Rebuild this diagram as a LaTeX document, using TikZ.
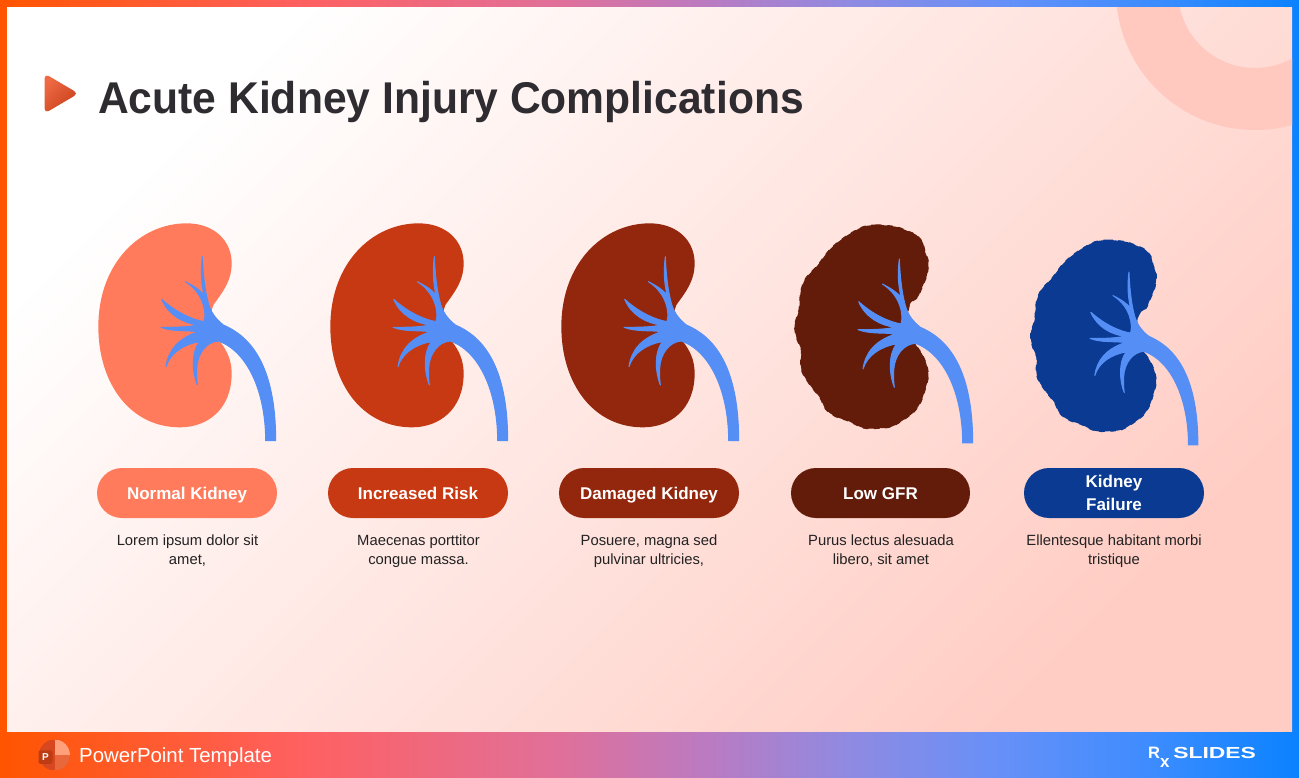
\documentclass[tikz,border=0pt]{standalone}
\usepackage{fontspec}
\setmainfont{Liberation Sans}
\definecolor{ureter}{HTML}{558FF6}
\definecolor{kA}{HTML}{FF7B5C}
\definecolor{kB}{HTML}{C63912}
\definecolor{kC}{HTML}{93270D}
\definecolor{kD}{HTML}{631B0A}
\definecolor{kE}{HTML}{0A3A92}
\definecolor{ringc}{HTML}{FFC9BF}
\definecolor{titlec}{HTML}{2E2C30}
\definecolor{bodyc}{HTML}{222222}
\definecolor{panelend}{HTML}{FFCDC4}
\definecolor{playA}{HTML}{EE6A45}
\definecolor{playB}{HTML}{C8401A}
\definecolor{icoA}{HTML}{D84820}
\definecolor{icoB}{HTML}{FFA07A}
\definecolor{icoC}{HTML}{E8683C}
\definecolor{icoD}{HTML}{BE3C14}
\definecolor{gA}{HTML}{FF5500}
\definecolor{gB}{HTML}{FF6060}
\definecolor{gC}{HTML}{E0709A}
\definecolor{gD}{HTML}{BC7AC0}
\definecolor{gE}{HTML}{8F8AE2}
\definecolor{gF}{HTML}{6690F8}
\definecolor{gG}{HTML}{3D8CFF}
\definecolor{gH}{HTML}{0A82FF}
\pgfdeclarehorizontalshading{framegrad}{100bp}{
 color(0bp)=(gA);
 color(25bp)=(gA);
 color(36.5bp)=(gB);
 color(46.5bp)=(gC);
 color(52bp)=(gD);
 color(57.7bp)=(gE);
 color(63.5bp)=(gF);
 color(69.3bp)=(gG);
 color(75bp)=(gH);
 color(100bp)=(gH)}
\newcommand{\normalpath}{
 (320,40) .. controls (400,40) and (455,90) .. (455,160)
 .. controls (455,215) and (425,250) .. (400,285)
 .. controls (385,320) and (395,370) .. (420,395)
 .. controls (440,420) and (455,450) .. (455,490)
 .. controls (455,600) and (380,652) .. (300,652)
 .. controls (150,652) and (55,520) .. (55,350)
 .. controls (55,160) and (180,40) .. (320,40) -- cycle}
\newcommand{\bumpypath}{
 plot[smooth cycle,tension=0.5] coordinates {(250,50)(290,45)(325,47)(355,52)(385,64)(408,74)(428,97)(435,125)(445,155)(441,195)(423,240)(413,262)(392,278)(385,300)(385,350)(405,400)(426,432)(440,465)(445,500)(435,540)(423,575)(403,605)(373,628)(335,650)(295,655)(250,654)(205,633)(167,620)(137,598)(120,563)(92,528)(67,488)(62,455)(64,420)(50,385)(44,345)(57,300)(62,245)(77,205)(112,167)(142,127)(167,102)(205,74)}}
\newcommand{\ureterpath}{
 (367,140) .. controls (369,190) and (374,240) .. (385,280)
 .. controls (392,305) and (405,325) .. (430,345)
 .. controls (500,375) and (587,450) .. (587,692)
 -- (557,692)
 .. controls (557,550) and (505,425) .. (415,393)
 .. controls (380,395) and (352,430) .. (350,475)
 .. controls (349,495) and (350,510) .. (352,525)
 .. controls (338,490) and (332,430) .. (358,395)
 .. controls (310,403) and (270,430) .. (258,470)
 .. controls (265,420) and (295,385) .. (355,365)
 .. controls (320,360) and (280,366) .. (243,352)
 .. controls (280,352) and (320,352) .. (355,345)
 .. controls (310,340) and (265,315) .. (245,268)
 .. controls (275,295) and (320,325) .. (372,335)
 .. controls (380,310) and (372,250) .. (316,215)
 .. controls (345,230) and (360,240) .. (372,255)
 .. controls (363,215) and (362,180) .. (367,140) -- cycle}
\newcommand{\pillstrut}{\rule[-5pt]{0pt}{22pt}}
\tikzset{
 pill/.style={rounded corners=25pt,minimum width=180pt,minimum height=50pt,inner sep=0pt,text=white,align=center,font=\fontsize{17}{23}\selectfont\bfseries},
 desc/.style={align=center,text=bodyc,inner sep=0pt,font=\fontsize{14.8}{19}\selectfont},
 logotext/.style={anchor=base west,inner sep=0pt,text=white},
 tube/.style={fill=ureter,draw=ureter,line width=1pt,line join=round},
 ruffle/.style={line width=1.1pt,line cap=round,dash pattern=on 5pt off 6pt}
}
\newcommand{\smoothkidney}[3]{%
 \begin{scope}[shift={(#1,#2)},scale=1/3]
  \fill[#3] \normalpath;
  \path[tube] \ureterpath;
 \end{scope}}
\newcommand{\rufflekidney}[4]{%
 \begin{scope}[shift={(#1,#2)},scale=#4]
  \fill[#3] \bumpypath;
  \draw[#3,ruffle] \bumpypath;
  \begin{scope}[shift={(-9,7)}]
   \path[tube] \ureterpath;
  \end{scope}
 \end{scope}}
\begin{document}
\begin{tikzpicture}[x=1pt,y=-1pt]
\useasboundingbox (0,0) rectangle (1299,778);
\shade[shading=framegrad] (0,0) rectangle (1299,778);
\shade[left color=white,right color=panelend,shading angle=45] (7,8) rectangle (1292,731);
\begin{scope}
 \clip (7,8) rectangle (1292,731);
 \fill[ringc,even odd rule] (1255,-9) circle[radius=139] (1255,-9) circle[radius=77];
\end{scope}
% title
\shade[left color=playA,right color=playB,shading angle=45,rounded corners=5pt] (44.5,93) -- (44.5,73.5) -- (78.5,93.5) -- (44.5,113.5) -- cycle;
\node[anchor=base west,inner sep=0pt,text=titlec,xscale=0.9576,font=\fontsize{44.5}{50}\selectfont\bfseries] (title) at (98,114) {Acute Kidney Injury Complications};
% kidneys
\smoothkidney{80}{210}{kA}
\smoothkidney{312}{210}{kB}
\smoothkidney{543}{210}{kC}
\rufflekidney{780}{210}{kD}{1/3}
\rufflekidney{1016.8}{226.0}{kE}{0.3133}
% pills
\node[pill,fill=kA] (p1) at (187,493) {\pillstrut Normal Kidney};
\node[pill,fill=kB] (p2) at (418,493) {\pillstrut Increased Risk};
\node[pill,fill=kC] (p3) at (649,493) {\pillstrut Damaged Kidney};
\node[pill,fill=kD,minimum width=179pt] (p4) at (880.5,493) {\pillstrut Low GFR};
\node[pill,fill=kE] (p5) at (1114,493) {\pillstrut Kidney\\\pillstrut Failure};
% descriptions
\node[desc] (d1) at (187.5,551.5) {\strut Lorem ipsum dolor sit\\\strut amet,};
\node[desc] (d2) at (418.5,551.5) {\strut Maecenas porttitor\\\strut congue massa.};
\node[desc] (d3) at (649,551.5) {\strut Posuere, magna sed\\\strut pulvinar ultricies,};
\node[desc] (d4) at (881,551.5) {\strut Purus lectus alesuada\\\strut libero, sit amet};
\node[desc] (d5) at (1114,551.5) {\strut Ellentesque habitant morbi\\\strut tristique};
% footer icon
\begin{scope}
 \clip (54.5,755) circle[radius=15.5];
 \fill[icoA] (39,740) rectangle (70,770);
 \fill[icoC] (54.5,755) rectangle (70,770);
 \fill[icoB] (54.5,740) rectangle (70,755);
\end{scope}
\node[fill=icoD,text=white,minimum width=14pt,minimum height=13.5pt,inner sep=0pt,rounded corners=1.5pt,font=\fontsize{10}{10}\selectfont\bfseries] (ppt) at (45.5,757) {P};
\node[logotext,font=\fontsize{20.4}{24}\selectfont] (foot) at (79,762) {PowerPoint Template};
\node[logotext,font=\fontsize{16.5}{16}\selectfont\bfseries] (logoR) at (1148,758) {R};
\node[logotext,font=\fontsize{17}{17}\selectfont\bfseries] (logoX) at (1160,767) {x};
\node[logotext,xscale=1.43,font=\fontsize{16}{17}\selectfont\bfseries] (logoS) at (1173,758.5) {SLIDES};
\end{tikzpicture}
\end{document}
